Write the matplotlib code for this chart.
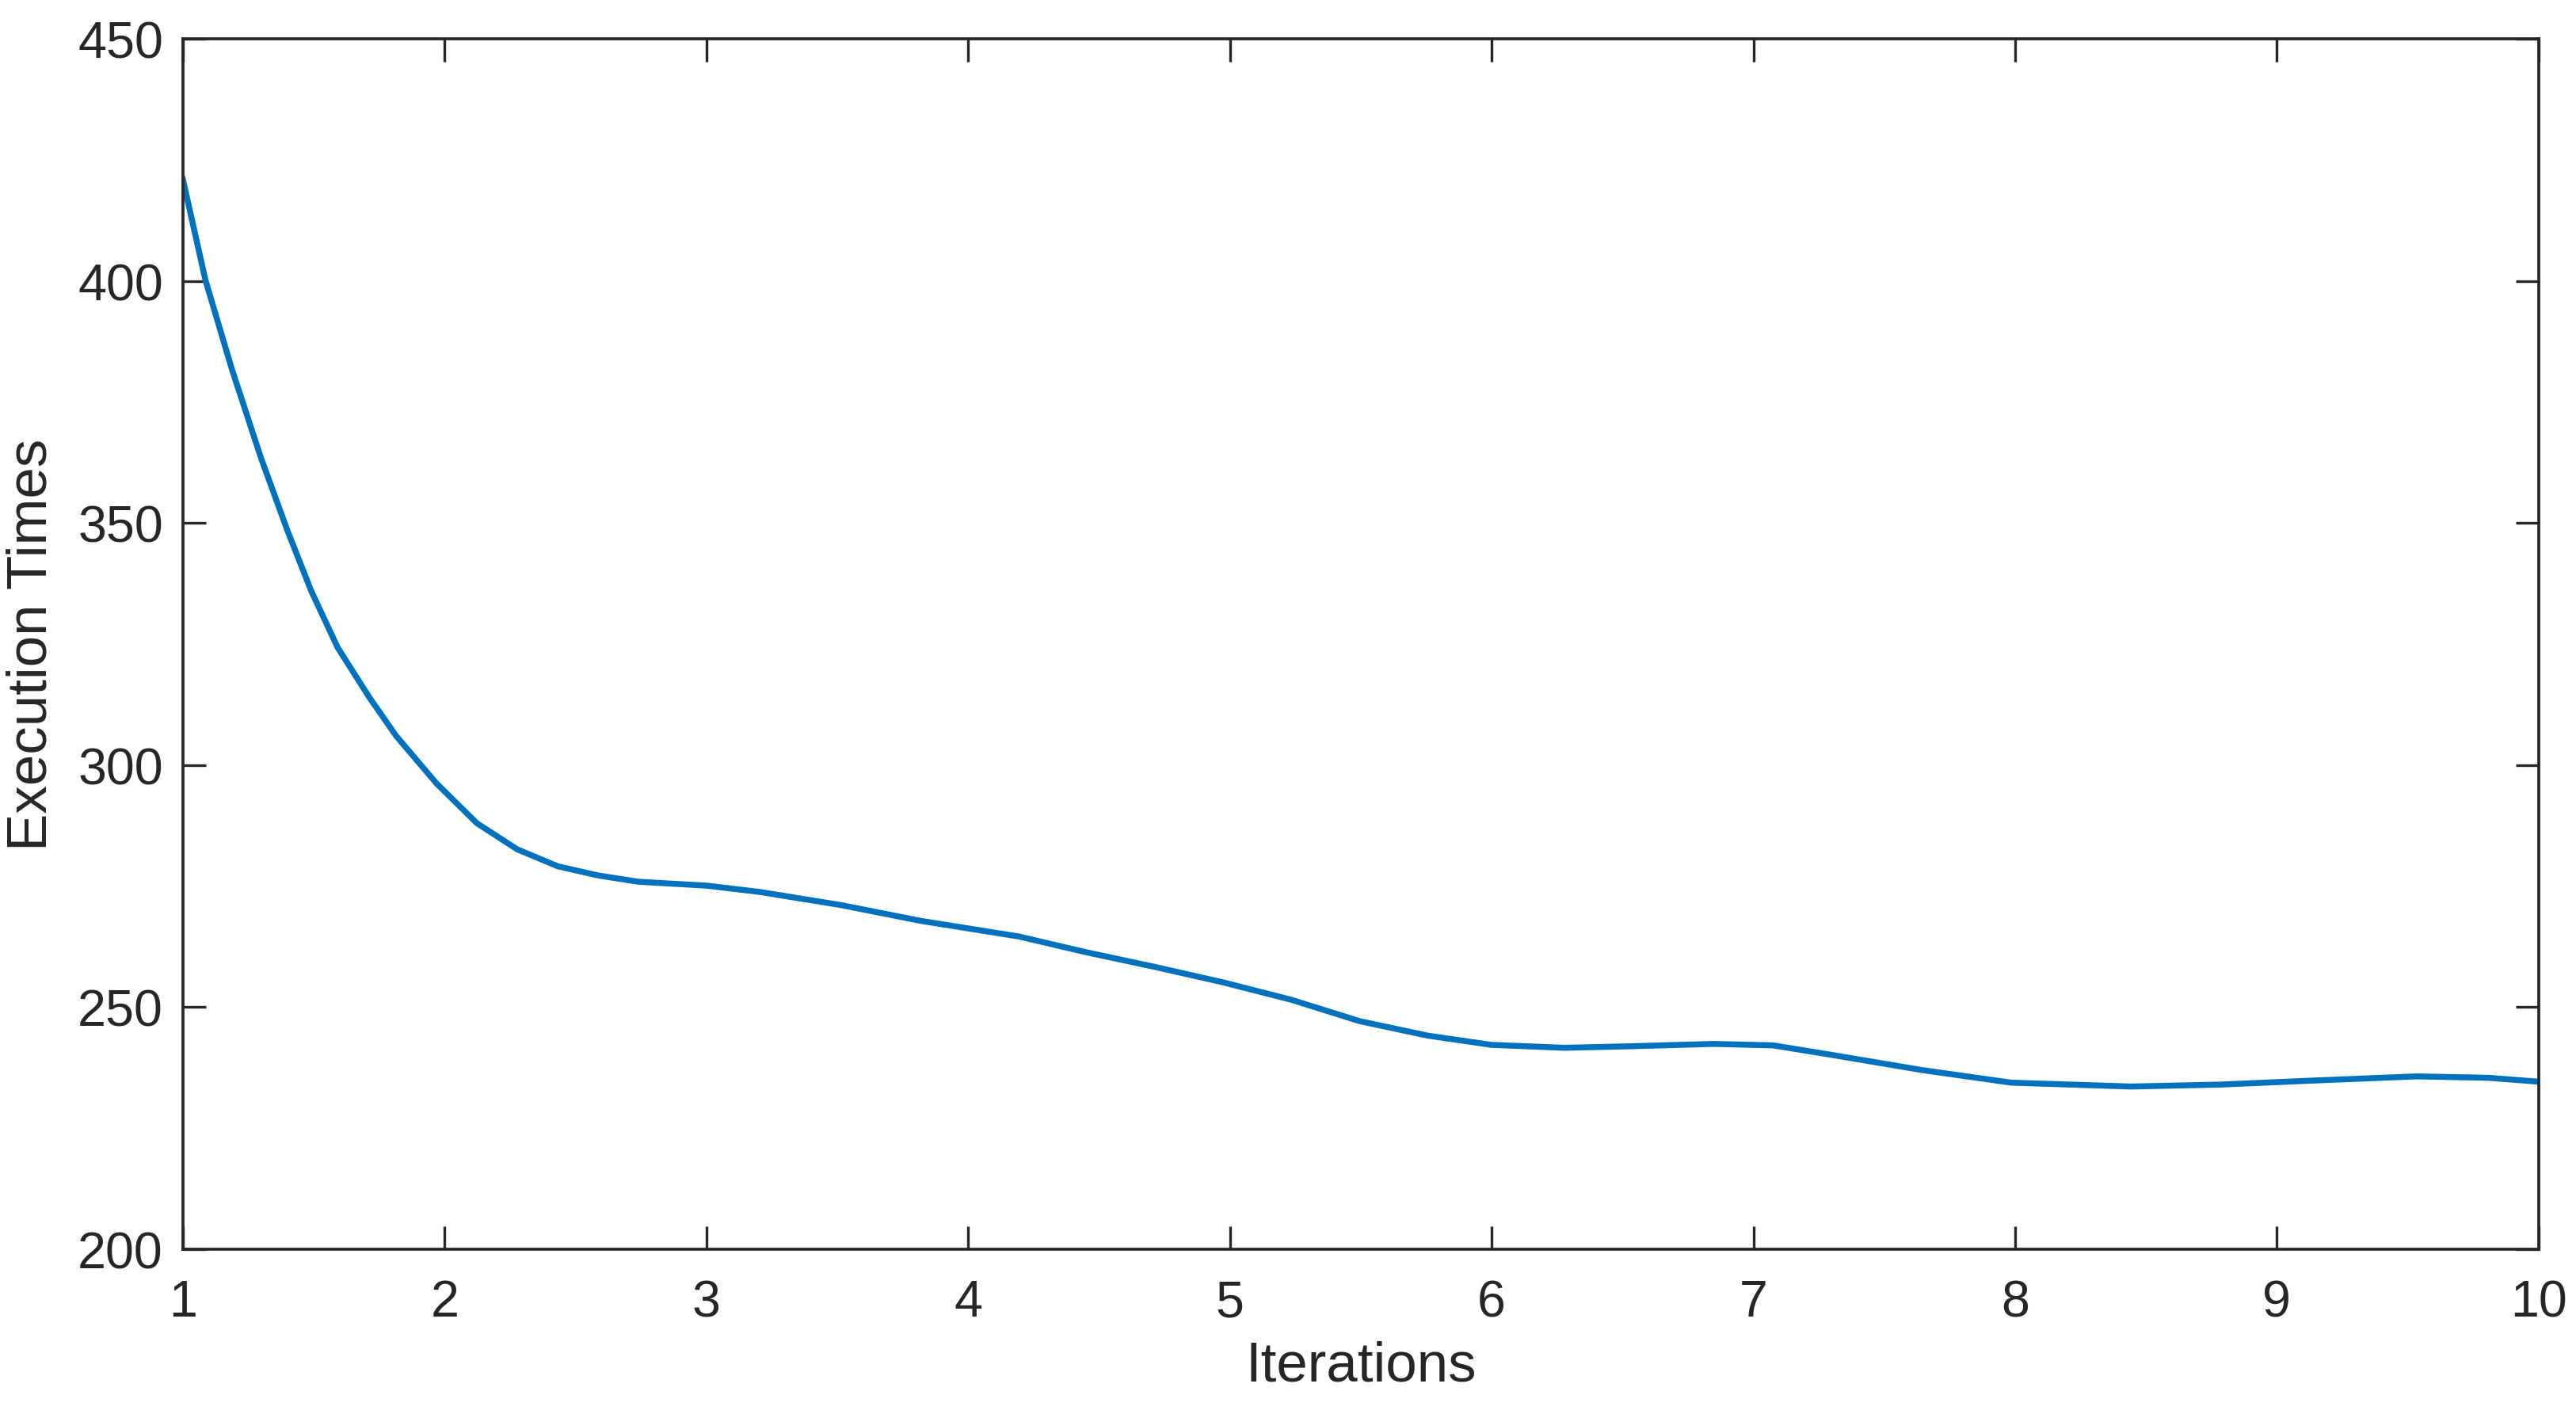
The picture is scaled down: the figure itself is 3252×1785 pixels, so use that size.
import matplotlib.pyplot as plt

# Points (iteration, execution time)
iterations = [1.000, 1.086, 1.187, 1.298, 1.399, 1.490, 1.591, 1.712, 1.815, 1.969,
              2.123, 2.277, 2.432, 2.586, 2.740, 3.000, 3.203, 3.512, 3.821, 4.193,
              4.454, 4.714, 4.975, 5.236, 5.496, 5.757, 6.000, 6.279, 6.519, 6.847,
              7.075, 7.303, 7.644, 7.985, 8.441, 8.783, 9.124, 9.535, 9.808, 10.000]
exec_times = [421.0, 400.2, 381.8, 363.5, 348.5, 336.0, 324.3, 314.0, 306.0, 296.2,
              288.0, 282.6, 279.1, 277.2, 275.9, 275.1, 273.8, 271.1, 267.8, 264.6,
              261.3, 258.3, 255.1, 251.5, 247.1, 244.1, 242.2, 241.6, 241.9, 242.4,
              242.1, 240.1, 237.0, 234.4, 233.6, 234.0, 234.8, 235.7, 235.4, 234.6]

x_ticks = list(range(1, 11))
y_ticks = [200, 250, 300, 350, 400, 450]

plt.rcParams['font.family'] = ['Liberation Sans', 'DejaVu Sans']
dark = '#262626'

fig = plt.figure(figsize=(10.84, 5.953), dpi=300)
ax = fig.add_axes([0.0710, 0.1165, 0.9145, 0.8555])

ax.plot(iterations, exec_times, color='#0072BD', linewidth=1.8,
        solid_joinstyle='round')

ax.set_xlim(1, 10)
ax.set_ylim(200, 450)
ax.set_xticks(x_ticks)
ax.set_yticks(y_ticks)

ax.tick_params(direction='in', length=7, width=0.8, colors=dark,
               labelsize=15.5, top=True, right=True)
ax.tick_params(axis='x', pad=9)
ax.tick_params(axis='y', pad=6)
for spine in ax.spines.values():
    spine.set_color(dark)
    spine.set_linewidth(0.9)

ax.set_xlabel('Iterations', fontsize=17, color=dark, labelpad=4)
ax.set_ylabel('Execution Times', fontsize=17, color=dark, labelpad=6)

fig.savefig('out.png', dpi=300)
